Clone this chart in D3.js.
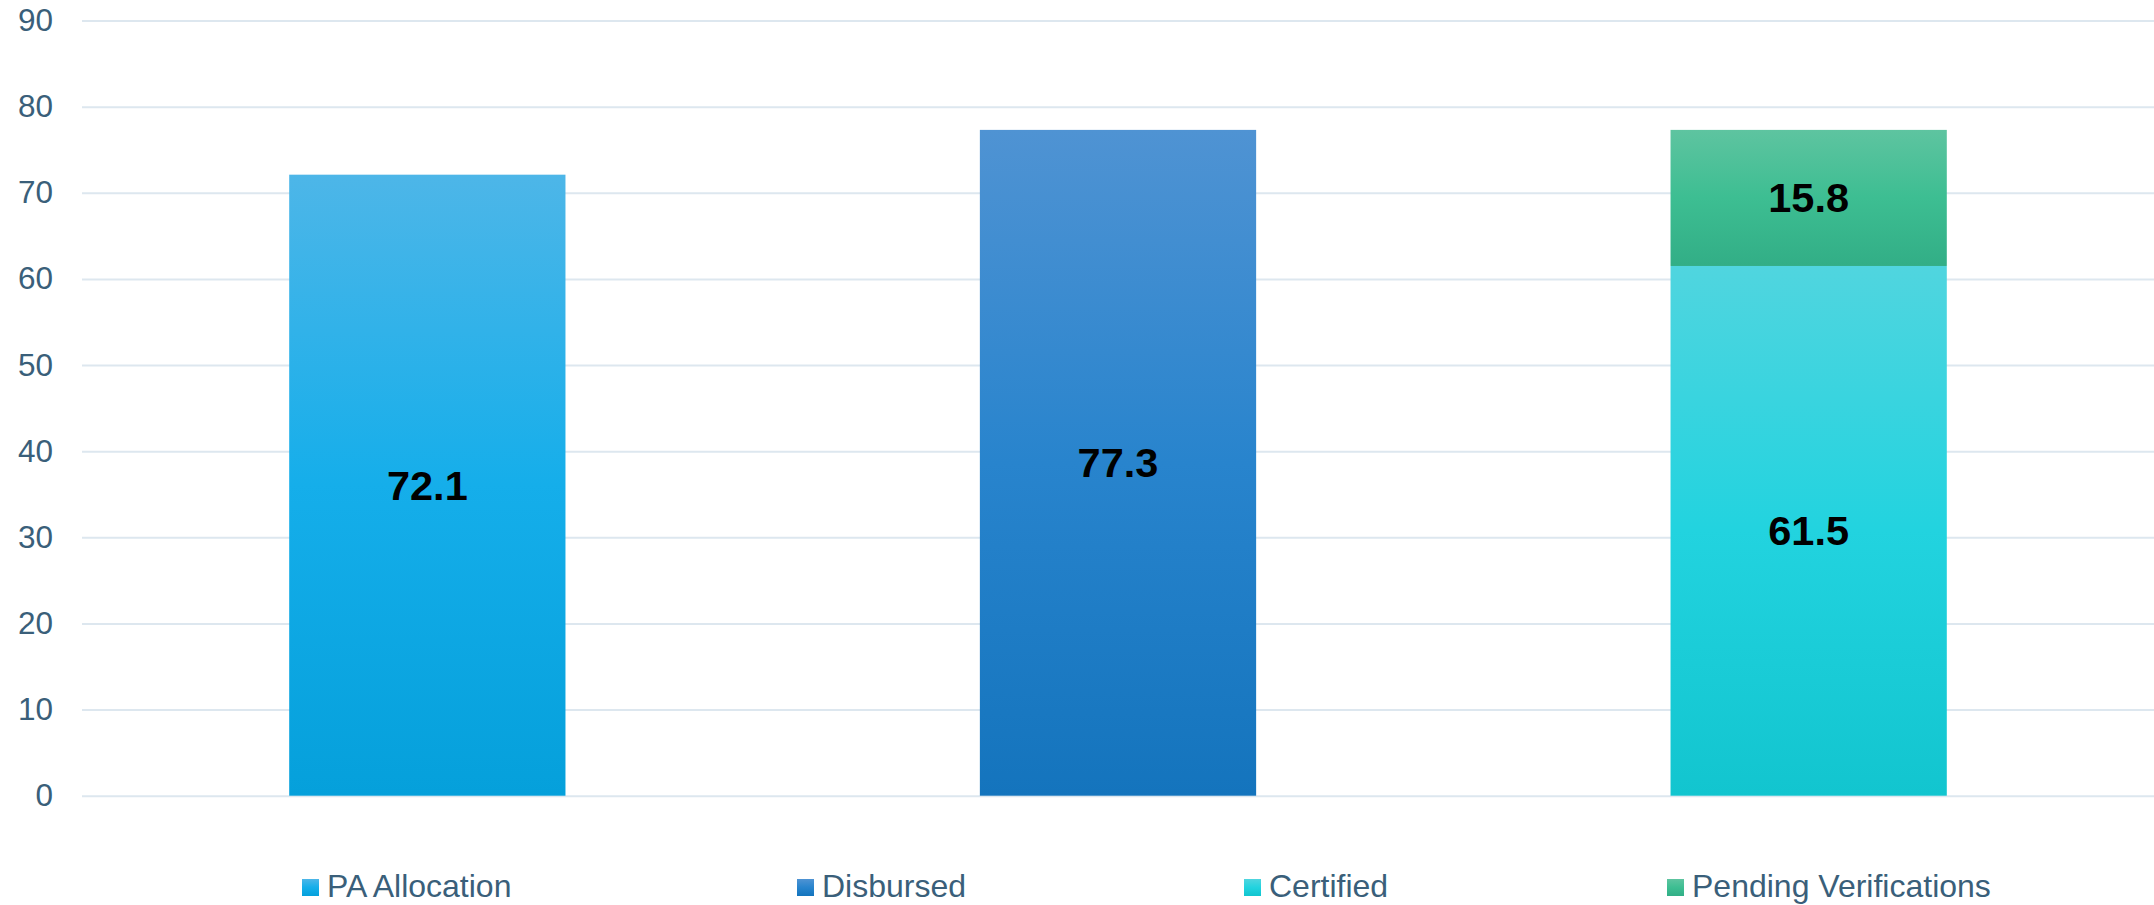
<!DOCTYPE html>
<html>
<head>
<meta charset="utf-8">
<script src="https://cdn.jsdelivr.net/npm/d3@7"></script>
<style>
  html, body { margin: 0; padding: 0; background: #ffffff; }
  svg { display: block; font-family: "Liberation Sans", Arial, sans-serif; }
</style>
</head>
<body>
<svg id="chart" width="2154" height="905"></svg>
<script>
// ---- data ----
const categories = ["Allocation", "Disbursement", "Certification"];
const seriesNames = ["PA Allocation", "Disbursed", "Certified", "Pending Verifications"];
const paAllocation = [72.1, 0, 0];
const disbursed = [0, 77.3, 0];
const certified = [0, 0, 61.5];
const pendingVerifications = [0, 0, 15.8];
const yTicks = [0, 10, 20, 30, 40, 50, 60, 70, 80, 90];

// gradient stops (top, middle, bottom) per series
const seriesGradients = [
  ["#4DB6E8", "#15AEEA", "#05A0DB"],
  ["#4F93D3", "#2884CD", "#1474BD"],
  ["#50D5DF", "#22D3DF", "#12C5CF"],
  ["#5EC4A0", "#3DBE92", "#32AE86"]
];

const rows = categories.map((c, i) => ({
  cat: c,
  "PA Allocation": paAllocation[i],
  "Disbursed": disbursed[i],
  "Certified": certified[i],
  "Pending Verifications": pendingVerifications[i]
}));

const svg = d3.select("#chart");
const plotLeft = 82, plotRight = 2154, plotTop = 20.5, plotBottom = 795.7;

const x = d3.scaleBand().domain(categories).range([plotLeft, plotRight])
  .paddingInner(0.6).paddingOuter(0.3);
const y = d3.scaleLinear().domain([0, 90]).range([plotBottom, plotTop]);

// gradients
const defs = svg.append("defs");
seriesNames.forEach((s, i) => {
  const g = defs.append("linearGradient").attr("id", "grad" + i)
    .attr("x1", 0).attr("y1", 0).attr("x2", 0).attr("y2", 1);
  g.append("stop").attr("offset", "0%").attr("stop-color", seriesGradients[i][0]);
  g.append("stop").attr("offset", "50%").attr("stop-color", seriesGradients[i][1]);
  g.append("stop").attr("offset", "100%").attr("stop-color", seriesGradients[i][2]);
});

// gridlines + y labels
const yAxis = d3.axisLeft(y).tickValues(yTicks).tickSize(-(plotRight - plotLeft)).tickPadding(29);
const gy = svg.append("g").attr("transform", `translate(${plotLeft},0)`).call(yAxis);
gy.select(".domain").remove();
gy.selectAll(".tick line").attr("stroke", "#DDE7EF").attr("stroke-width", 2);
gy.selectAll(".tick text").attr("fill", "#3A5F7A").attr("font-size", "31.5px")
  .attr("font-family", "Liberation Sans, Arial, sans-serif");

// stacked bars
const stack = d3.stack().keys(seriesNames);
const stacked = stack(rows);
const barsG = svg.append("g");
stacked.forEach((layer, si) => {
  layer.forEach((d, ci) => {
    const v = d[1] - d[0];
    if (v <= 0) return;
    barsG.append("rect")
      .attr("x", x(categories[ci]))
      .attr("width", x.bandwidth())
      .attr("y", y(d[1]))
      .attr("height", y(d[0]) - y(d[1]))
      .attr("fill", `url(#grad${si})`);
    barsG.append("text")
      .attr("x", x(categories[ci]) + x.bandwidth() / 2)
      .attr("y", (y(d[0]) + y(d[1])) / 2)
      .attr("text-anchor", "middle")
      .attr("dominant-baseline", "central")
      .attr("font-weight", "bold")
      .attr("font-size", "41.5px")
      .attr("fill", "#000000")
      .text(v.toFixed(1));
  });
});

const legendX = [302, 797, 1244, 1667];
const legend = svg.append("g");
seriesNames.forEach((s, i) => {
  const item = legend.append("g").attr("transform", `translate(${legendX[i]},0)`);
  item.append("rect").attr("x", 0).attr("y", 879).attr("width", 17).attr("height", 17)
    .attr("fill", `url(#grad${i})`);
  item.append("text").attr("x", 25).attr("y", 897)
    .attr("font-size", "32px").attr("fill", "#3A5F7A").text(s);
});
</script>
</body>
</html>
